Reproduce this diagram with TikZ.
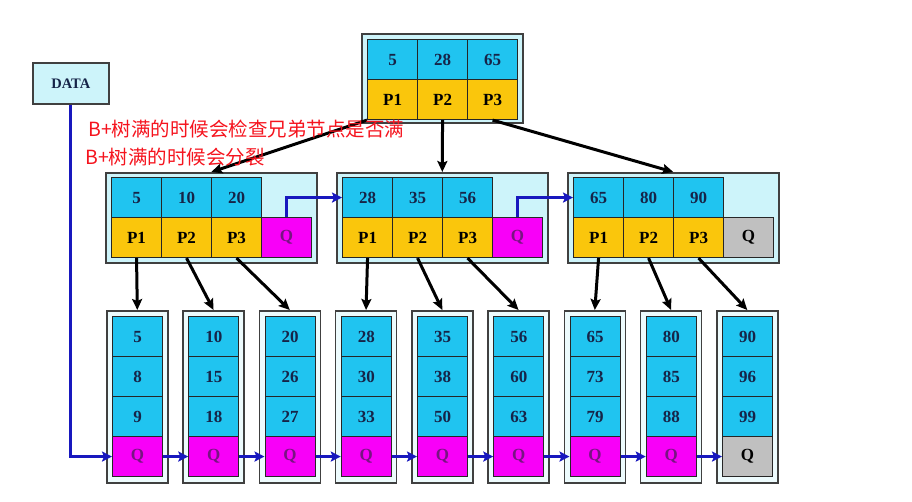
\documentclass[tikz,border=0pt]{standalone}
\usepackage{fontspec}
\setmainfont{Liberation Serif}
\newfontfamily\cjk{Noto Sans CJK SC}
\usetikzlibrary{arrows.meta}
\definecolor{cle}{RGB}{32,196,240}
\definecolor{ptr}{RGB}{250,198,12}
\definecolor{lien}{RGB}{248,0,248}
\definecolor{fin}{RGB}{192,192,192}
\definecolor{cadre}{RGB}{205,244,250}
\definecolor{bleu}{RGB}{24,24,190}
\definecolor{chiffre}{RGB}{22,36,72}
\definecolor{qmot}{RGB}{120,20,130}
\definecolor{rouge}{RGB}{245,20,30}
\tikzset{
  box/.style={draw=black!75,line width=1.6pt,fill=cadre,inner sep=0pt,anchor=north west},
  cell/.style={draw=black!85,line width=1.1pt,minimum width=50pt,minimum height=40pt,inner sep=0pt,anchor=north west,font=\fontsize{17}{19}\selectfont\bfseries},
  keycell/.style={cell,fill=cle,text=chiffre},
  ptrcell/.style={cell,fill=ptr,text=black},
  qcell/.style={cell},
  noir/.style={line width=3pt,-{Stealth[length=11pt,width=10pt,inset=2pt]}},
  lienq/.style={bleu,line width=3pt,-{Stealth[length=10pt,width=10pt,inset=2pt]}},
  note/.style={anchor=west,inner sep=0pt,text=rouge,font=\cjk\fontsize{19.5}{22}\selectfont}
}

\begin{document}
\begin{tikzpicture}[x=1pt,y=-1pt]
\useasboundingbox (0,0) rectangle (912,501);
\node[box,minimum width=76pt,minimum height=41pt,font=\fontsize{14.5}{16}\selectfont\bfseries,text=chiffre] (data) at (32,62) {DATA};
\node[box,minimum width=161pt,minimum height=89pt] (top) at (361,33) {};
\foreach \v [count=\i] in {5,28,65} {
  \node[keycell] (tk\i) at ({367+50*(\i-1)},39) {\v};
  \node[ptrcell] (tp\i) at ({367+50*(\i-1)},79) {P\i};
}
\foreach \a/\b/\c/\qf/\qt [count=\n] in {5/10/20/lien/qmot,28/35/56/lien/qmot,65/80/90/fin/black} {
  \pgfmathsetmacro\x{105+231*(\n-1)}
  \node[box,minimum width=211pt,minimum height=90pt] (m\n) at (\x,172) {};
  \foreach \v [count=\i] in {\a,\b,\c} {
    \node[keycell] (mk\n\i) at ({\x+6+50*(\i-1)},177) {\v};
    \node[ptrcell] (mp\n\i) at ({\x+6+50*(\i-1)},217) {P\i};
  }
  \node[qcell,fill=\qf,text=\qt] (mq\n) at (\x+156,217) {Q};
}
\foreach \a/\b/\c/\qf/\qt [count=\k] in {5/8/9/lien/qmot,10/15/18/lien/qmot,20/26/27/lien/qmot,28/30/33/lien/qmot,35/38/50/lien/qmot,56/60/63/lien/qmot,65/73/79/lien/qmot,80/85/88/lien/qmot,90/96/99/fin/black} {
  \pgfmathsetmacro\x{106+76.25*(\k-1)}
  \node[box,fill=cadre!35,minimum width=61pt,minimum height=172pt] (f\k) at (\x,310) {};
  \node[keycell] (fa\k) at (\x+6,316) {\a};
  \node[keycell] (fb\k) at (\x+6,356) {\b};
  \node[keycell] (fc\k) at (\x+6,396) {\c};
  \node[qcell,fill=\qf,text=\qt] (fq\k) at (\x+6,436) {Q};
}

\draw[noir] (tp1.south west) -- (m1.north);
\draw[noir] (tp2.south) -- (m2.north);
\draw[noir] (tp3.south) -- (m3.north);
\foreach \n in {1,2,3}
  \foreach \i in {1,2,3} {
    \pgfmathtruncatemacro\k{3*(\n-1)+\i}
    \draw[noir] (mp\n\i.south) -- (f\k.north);
  }

\draw[lienq] (mq1.north) |- (mk21.west);
\draw[lienq] (mq2.north) |- (mk31.west);
\draw[lienq] (data.south) |- (fq1.west);
\foreach \k in {1,...,8} {
  \pgfmathtruncatemacro\j{\k+1}
  \draw[lienq] (fq\k.east) -- (fq\j.west);
}

\node[note] (note1) at (88,129) {B+树满的时候会检查兄弟节点是否满};
\node[note] (note2) at (85,157) {B+树满的时候会分裂};
\end{tikzpicture}
\end{document}
